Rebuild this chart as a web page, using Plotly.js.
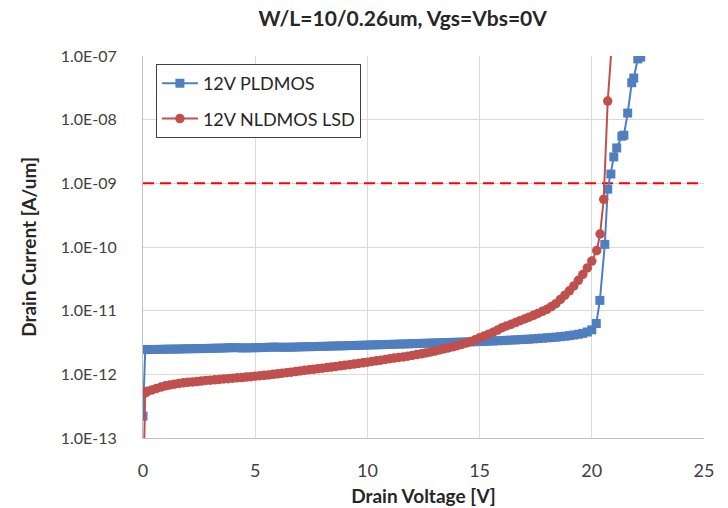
<!DOCTYPE html>
<html>
<head>
<meta charset="utf-8">
<script src="https://cdn.plot.ly/plotly-3.0.1.min.js"></script>
<style>html,body{margin:0;padding:0;background:#fff;}#chart{width:728px;height:508px;}</style>
</head>
<body>
<div id="chart"></div>
<script>
// ---- data (currents in pA = 1e-12 A/um) ----
const plVoltage = [
  0, 0.1,
  0.2, 0.4, 0.6, 0.8, 1.0, 1.2, 1.4, 1.6, 1.8, 2.0,
  2.2, 2.4, 2.6, 2.8, 3.0, 3.2, 3.4, 3.6, 3.8, 4.0,
  4.2, 4.4, 4.6, 4.8, 5.0, 5.2, 5.4, 5.6, 5.8, 6.0,
  6.2, 6.4, 6.6, 6.8, 7.0, 7.2, 7.4, 7.6, 7.8, 8.0,
  8.2, 8.4, 8.6, 8.8, 9.0, 9.2, 9.4, 9.6, 9.8, 10.0,
  10.2, 10.4, 10.6, 10.8, 11.0, 11.2, 11.4, 11.6, 11.8, 12.0,
  12.2, 12.4, 12.6, 12.8, 13.0, 13.2, 13.4, 13.6, 13.8, 14.0,
  14.2, 14.4, 14.6, 14.8, 15.0, 15.2, 15.4, 15.6, 15.8, 16.0,
  16.2, 16.4, 16.6, 16.8, 17.0, 17.2, 17.4, 17.6, 17.8, 18.0,
  18.2, 18.4, 18.6, 18.8, 19.0, 19.2, 19.4, 19.6, 19.8, 20.0,
  20.2, 20.36, 20.58, 20.71, 20.85, 20.98, 21.11, 21.34, 21.43, 21.6, 21.78, 21.87, 22.05, 22.18
];
const plCurrent_pA = [
  0.22, 2.45,
  2.45, 2.46, 2.46, 2.47, 2.48, 2.49, 2.49, 2.50, 2.51, 2.52,
  2.53, 2.53, 2.54, 2.55, 2.56, 2.57, 2.58, 2.59, 2.61, 2.63,
  2.62, 2.60, 2.60, 2.61, 2.62, 2.63, 2.64, 2.66, 2.68, 2.67,
  2.66, 2.66, 2.67, 2.68, 2.70, 2.71, 2.72, 2.73, 2.74, 2.75,
  2.76, 2.78, 2.79, 2.80, 2.81, 2.83, 2.84, 2.85, 2.87, 2.88,
  2.90, 2.91, 2.92, 2.94, 2.95, 2.97, 2.98, 3.00, 3.01, 3.03,
  3.05, 3.06, 3.08, 3.09, 3.11, 3.13, 3.14, 3.16, 3.18, 3.19,
  3.21, 3.22, 3.24, 3.26, 3.27, 3.30, 3.32, 3.34, 3.37, 3.39,
  3.42, 3.45, 3.48, 3.51, 3.54, 3.57, 3.61, 3.65, 3.70, 3.74,
  3.79, 3.84, 3.90, 3.97, 4.05, 4.15, 4.26, 4.40, 4.62, 5.00,
  6.3, 14.5, 110, 810, 1400, 2600, 3600, 5500, 5700, 12700, 38000, 45000, 90000, 96000
];

const nlVoltage = [
  0, 0.1,
  0.2, 0.4, 0.6, 0.8, 1.0, 1.2, 1.4, 1.6, 1.8, 2.0,
  2.2, 2.4, 2.6, 2.8, 3.0, 3.2, 3.4, 3.6, 3.8, 4.0,
  4.2, 4.4, 4.6, 4.8, 5.0, 5.2, 5.4, 5.6, 5.8, 6.0,
  6.2, 6.4, 6.6, 6.8, 7.0, 7.2, 7.4, 7.6, 7.8, 8.0,
  8.2, 8.4, 8.6, 8.8, 9.0, 9.2, 9.4, 9.6, 9.8, 10.0,
  10.2, 10.4, 10.6, 10.8, 11.0, 11.2, 11.4, 11.6, 11.8, 12.0,
  12.2, 12.4, 12.6, 12.8, 13.0, 13.2, 13.4, 13.6, 13.8, 14.0,
  14.2, 14.4, 14.6, 14.8, 15.0, 15.2, 15.4, 15.6, 15.8, 16.0,
  16.2, 16.4, 16.6, 16.8, 17.0, 17.2, 17.4, 17.6, 17.8, 18.0,
  18.2, 18.4, 18.6, 18.8, 19.0, 19.2, 19.4, 19.6, 19.8, 20.0,
  20.22, 20.37, 20.53, 20.71, 20.95
];
const nlCurrent_pA = [
  0.01, 0.51,
  0.54, 0.57, 0.60, 0.63, 0.66, 0.68, 0.70, 0.72, 0.735, 0.75,
  0.76, 0.77, 0.785, 0.80, 0.81, 0.82, 0.83, 0.845, 0.855, 0.87,
  0.88, 0.89, 0.905, 0.92, 0.935, 0.95, 0.965, 0.98, 1.00, 1.02,
  1.04, 1.06, 1.08, 1.105, 1.13, 1.155, 1.18, 1.20, 1.225, 1.25,
  1.275, 1.30, 1.33, 1.36, 1.39, 1.42, 1.45, 1.48, 1.515, 1.55,
  1.59, 1.63, 1.67, 1.71, 1.76, 1.80, 1.84, 1.88, 1.93, 1.98,
  2.04, 2.10, 2.17, 2.24, 2.32, 2.41, 2.50, 2.60, 2.71, 2.82,
  2.95, 3.10, 3.27, 3.48, 3.75, 4.00, 4.28, 4.58, 4.95, 5.40,
  5.75, 6.10, 6.50, 6.95, 7.40, 7.90, 8.45, 9.05, 9.75, 10.5,
  11.6, 12.9, 15.0, 17.5, 20.5, 24.5, 30.0, 37.0, 47.0, 60.0,
  88, 160, 560, 19600, 300000
];

const limitVoltage = [0, 25];
const limitCurrent = [1e-9, 1e-9];

const seriesNames = ['12V PLDMOS', '12V NLDMOS LSD'];
const yTickVals = [1e-13, 1e-12, 1e-11, 1e-10, 1e-9, 1e-8, 1e-7];
const yTickText = ['1.0E-13', '1.0E-12', '1.0E-11', '1.0E-10', '1.0E-09', '1.0E-08', '1.0E-07'];
const xTickVals = [0, 5, 10, 15, 20, 25];

const chartTitle = 'W/L=10/0.26um, Vgs=Vbs=0V';
const xTitle = 'Drain Voltage [V]';
const yTitle = 'Drain Current [A/um]';

// ---- chart ----
const PICO = 1e-12; // unit conversion pA -> A/um
const FONT = 'Lato, "Open Sans", sans-serif';
const BLUE = '#4f7fbf';
const RED = '#c0504d';

const traces = [
  {
    x: limitVoltage, y: limitCurrent, mode: 'lines', showlegend: false, hoverinfo: 'skip',
    line: {color: '#ff0000', width: 2, dash: '11px,6px'}
  },
  {
    x: plVoltage, y: plCurrent_pA.map(v => v * PICO), name: seriesNames[0], mode: 'lines+markers', legendgroup: 'a',
    line: {color: BLUE, width: 2},
    marker: {symbol: 'square', size: 9, color: BLUE}
  },
  {
    x: nlVoltage, y: nlCurrent_pA.map(v => v * PICO), name: seriesNames[1], mode: 'lines+markers', legendgroup: 'b',
    line: {color: RED, width: 2},
    marker: {symbol: 'circle', size: 9.5, color: RED}
  }
];

const layout = {
  width: 728, height: 508,
  margin: {l: 143, r: 24, t: 56, b: 70},
  paper_bgcolor: '#ffffff', plot_bgcolor: '#ffffff',
  font: {family: FONT, size: 16, color: '#404040'},
  title: {
    text: chartTitle, font: {family: FONT, size: 21, color: '#262626', weight: 'bold'},
    xref: 'paper', x: 0.463, xanchor: 'center', yref: 'container', y: 0.963, yanchor: 'middle'
  },
  xaxis: {
    range: [0, 25], tickvals: xTickVals, ticks: '', ticklabelstandoff: 16,
    showgrid: true, gridcolor: '#d9d9d9', gridwidth: 1,
    showline: true, linecolor: '#bfbfbf', linewidth: 1, zeroline: false,
    tickfont: {family: FONT, size: 18, color: '#404040'},
    title: {text: xTitle, font: {family: FONT, size: 19, color: '#262626', weight: 'bold'}, standoff: 10}
  },
  yaxis: {
    type: 'log', range: [-13, -7], tickvals: yTickVals, ticktext: yTickText, ticks: '', ticklabelstandoff: 22,
    showgrid: true, gridcolor: '#d9d9d9', gridwidth: 1,
    showline: true, linecolor: '#bfbfbf', linewidth: 1, zeroline: false,
    tickfont: {family: FONT, size: 16, color: '#404040'},
    title: {text: yTitle, font: {family: FONT, size: 19, color: '#262626', weight: 'bold'}, standoff: 19}
  },
  legend: {
    x: 0.023, y: 0.979, xanchor: 'left', yanchor: 'top',
    bgcolor: '#ffffff', bordercolor: '#404040', borderwidth: 1,
    font: {family: FONT, size: 18, color: '#262626'},
    traceorder: 'grouped', tracegroupgap: 9, itemwidth: 36
  },
  showlegend: true
};

Plotly.newPlot('chart', traces, layout, {displayModeBar: false, staticPlot: true});
</script>
</body>
</html>
